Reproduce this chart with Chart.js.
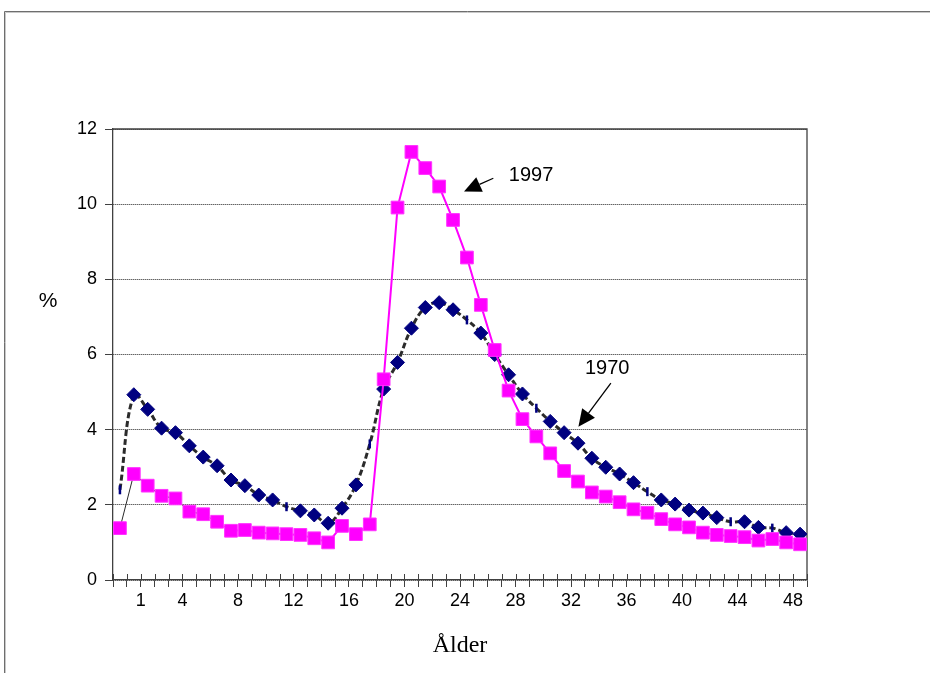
<!DOCTYPE html>
<html><head><meta charset="utf-8">
<script src="https://cdn.jsdelivr.net/npm/chart.js@4/dist/chart.umd.min.js"></script>
<style>html,body{margin:0;padding:0;background:#fff;}#wrap{width:930px;height:673px;position:relative;}</style>
</head><body><div id="wrap"><canvas id="c" width="930" height="673"></canvas></div>
<script>
// categories (age index)
const ages = [0,1,2,3,4,5,6,7,8,9,10,11,12,13,14,15,16,17,18,19,20,21,22,23,24,25,26,27,28,29,30,31,32,33,34,35,36,37,38,39,40,41,42,43,44,45,46,47,48,49];
// series values (%)
const values1970 = [2.40,4.93,4.54,4.04,3.92,3.57,3.27,3.04,2.66,2.51,2.26,2.13,1.95,1.84,1.73,1.51,1.91,2.53,3.62,5.08,5.79,6.70,7.25,7.38,7.19,6.92,6.57,6.00,5.46,4.95,4.57,4.22,3.92,3.64,3.24,3.00,2.82,2.59,2.35,2.13,2.02,1.86,1.78,1.66,1.55,1.55,1.40,1.38,1.26,1.22];
const values1997 = [1.38,2.82,2.51,2.24,2.17,1.82,1.75,1.55,1.31,1.33,1.26,1.24,1.22,1.20,1.11,1.00,1.44,1.22,1.48,5.34,9.91,11.39,10.96,10.47,9.58,8.58,7.32,6.12,5.04,4.28,3.82,3.37,2.90,2.62,2.33,2.22,2.07,1.88,1.79,1.62,1.48,1.40,1.26,1.20,1.17,1.14,1.05,1.09,1.00,0.95];
// tick labels shown on the x axis
const xTickLabels = ['1','4','8','12','16','20','24','28','32','36','40','44','48'];
const yTicks = [0,2,4,6,8,10,12];
const seriesNames = ['1997','1970'];
const yTitle = '%';
const xTitle = 'Ålder';

// style: 1970 points that appear as thin vertical marks
const barMarks = [0,12,18,25,30,38,44,47];

Chart.defaults.font.family = '"Liberation Sans", Arial, Helvetica, sans-serif';
Chart.defaults.font.size = 18;
Chart.defaults.color = '#000';

const decor = {
  id: 'decor',
  beforeDatasetsDraw(chart) {
    const {ctx, chartArea: a, scales: {x}} = chart;
    ctx.save();
    // outer chart frame (top & left)
    ctx.lineWidth = 1;
    ctx.strokeStyle = '#6e6e6e';
    ctx.beginPath(); ctx.moveTo(4.5, 673); ctx.lineTo(4.5, 11.5); ctx.lineTo(930, 11.5); ctx.stroke();
    ctx.strokeStyle = '#c8c8c8';
    ctx.beginPath(); ctx.moveTo(5.5, 673); ctx.lineTo(5.5, 12.5); ctx.lineTo(930, 12.5); ctx.stroke();
    // plot frame top & right
    ctx.strokeStyle = '#404040';
    ctx.lineWidth = 1.3;
    ctx.beginPath(); ctx.moveTo(a.left, a.top); ctx.lineTo(a.right, a.top); ctx.lineTo(a.right, a.bottom); ctx.stroke();
    // inner part of crossing x tick marks
    ctx.lineWidth = 1;
    ctx.strokeStyle = '#404040';
    x.ticks.forEach(t => {
      const px = Math.round(x.getPixelForValue(t.value)) + 0.5;
      ctx.beginPath(); ctx.moveTo(px, a.bottom); ctx.lineTo(px, a.bottom - 6); ctx.stroke();
    });
    ctx.restore();
  }
};

function arrow(ctx, x1, y1, x2, y2) {
  const ang = Math.atan2(y2 - y1, x2 - x1);
  const L = 17, W = 8;
  const bx = x2 - L * Math.cos(ang), by = y2 - L * Math.sin(ang);
  ctx.beginPath(); ctx.moveTo(x1, y1); ctx.lineTo(bx, by); ctx.stroke();
  ctx.beginPath();
  ctx.moveTo(x2, y2);
  ctx.lineTo(bx + W * Math.sin(ang), by - W * Math.cos(ang));
  ctx.lineTo(bx - W * Math.sin(ang), by + W * Math.cos(ang));
  ctx.closePath(); ctx.fill();
}

const notes = {
  id: 'notes',
  afterDraw(chart) {
    const {ctx, scales: {x, y}} = chart;
    const X = v => x.getPixelForValue(v), Y = v => y.getPixelForValue(v);
    ctx.save();
    ctx.fillStyle = '#000'; ctx.strokeStyle = '#000'; ctx.lineWidth = 1.3;
    ctx.font = '20px "Liberation Sans", Arial, sans-serif';
    ctx.textAlign = 'center'; ctx.textBaseline = 'middle';
    ctx.fillText(seriesNames[0], X(29.62), Y(10.76));
    arrow(ctx, X(26.9), Y(10.69), X(24.79), Y(10.34));
    ctx.fillText(seriesNames[1], X(35.1), Y(5.64));
    arrow(ctx, X(35.37), Y(5.24), X(33.03), Y(4.08));
    // y title
    ctx.font = '21px "Liberation Sans", Arial, sans-serif';
    ctx.fillText(yTitle, 48, Y(7.43));
    ctx.restore();
  }
};

new Chart(document.getElementById('c'), {
  type: 'line',
  data: {
    datasets: [
      {
        label: seriesNames[0],
        data: ages.map((a, i) => ({x: a, y: values1997[i]})),
        borderColor: '#FF00FF',
        borderWidth: 2,
        tension: 0,
        segment: {
          borderColor: c => c.p0DataIndex < 8 ? '#2a2a2a' : undefined,
          borderWidth: c => c.p0DataIndex < 8 ? 1 : undefined
        },
        pointStyle: 'rect',
        pointRadius: 9,
        pointHoverRadius: 9,
        pointBackgroundColor: '#FF00FF',
        pointBorderColor: '#FF33FF',
        pointBorderWidth: 1
      },
      {
        label: seriesNames[1],
        data: ages.map((a, i) => ({x: a, y: values1970[i]})),
        borderColor: '#2b2b2b',
        borderWidth: 3,
        borderDash: [6, 3],
        tension: 0.4,
        pointStyle: c => barMarks.includes(c.dataIndex) ? 'line' : 'rectRot',
        rotation: c => barMarks.includes(c.dataIndex) ? 90 : 0,
        pointRadius: c => barMarks.includes(c.dataIndex) ? 4.5 : 7,
        pointHoverRadius: c => barMarks.includes(c.dataIndex) ? 4.5 : 7,
        pointBackgroundColor: '#000080',
        pointBorderColor: '#000080',
        pointBorderWidth: c => barMarks.includes(c.dataIndex) ? 2.5 : 1
      }
    ]
  },
  options: {
    responsive: false,
    animation: false,
    events: [],
    layout: {padding: {left: 0, top: 129, right: 123, bottom: 0}},
    plugins: {legend: {display: false}, tooltip: {enabled: false}},
    scales: {
      x: {
        type: 'linear',
        min: -0.5, max: 49.5,
        afterBuildTicks: s => { s.ticks = ages.concat([50]).map(a => ({value: a - 0.5})); },
        afterFit: s => { s.height = 93; },
        grid: {drawOnChartArea: false, drawTicks: true, tickLength: 7, tickColor: '#404040', tickWidth: 1},
        border: {display: true, color: '#404040', width: 1.3},
        ticks: {
          autoSkip: false, maxRotation: 0, minRotation: 0, padding: 3,
          font: {size: 18},
          callback: v => {
            const n = String(Math.round(v - 0.5));
            return xTickLabels.includes(n) ? n : '';
          }
        },
        title: {display: true, text: xTitle, font: {family: '"Liberation Serif", "Times New Roman", serif', size: 24}, color: '#000', padding: {top: 0, bottom: 13}}
      },
      y: {
        min: 0, max: 12,
        afterBuildTicks: s => { s.ticks = yTicks.map(v => ({value: v})); },
        afterFit: s => { s.width = 113; },
        grid: {color: '#222', lineWidth: 1, tickLength: 8, tickColor: '#404040', tickWidth: 1},
        border: {display: true, color: '#404040', width: 1.3, dash: [1, 1]},
        ticks: {padding: 8, font: {size: 18}}
      }
    }
  },
  plugins: [decor, notes]
});
</script></body></html>
